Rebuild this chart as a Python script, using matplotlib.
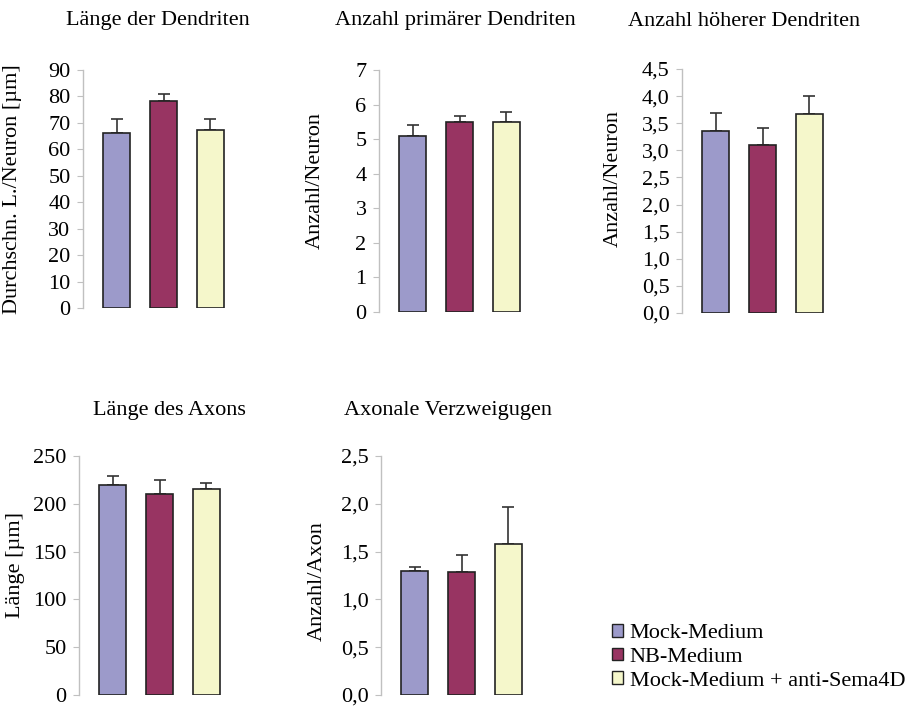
import matplotlib
matplotlib.use("Agg")
import matplotlib.pyplot as plt
from matplotlib.patches import Patch
from matplotlib.ticker import FuncFormatter

plt.rcParams['font.family'] = ['Liberation Serif', 'DejaVu Serif']

# Gruppen und Farben
gruppen = ['Mock-Medium', 'NB-Medium', 'Mock-Medium + anti-Sema4D']
farben = ['#9c9aca', '#983462', '#f5f7cb']

# Werte je Panel (Mittelwert, Fehler nach oben)
titel = ['Länge der Dendriten', 'Anzahl primärer Dendriten', 'Anzahl höherer Dendriten',
         'Länge des Axons', 'Axonale Verzweigugen']
ylabels = ['Durchschn. L./Neuron [µm]', 'Anzahl/Neuron', 'Anzahl/Neuron',
           'Länge [µm]', 'Anzahl/Axon']

laenge_dendriten = [66.0, 78.4, 67.3]
laenge_dendriten_err = [5.5, 2.6, 4.2]
primaer = [5.09, 5.50, 5.50]
primaer_err = [0.33, 0.16, 0.28]
hoeher = [3.36, 3.09, 3.67]
hoeher_err = [0.33, 0.33, 0.33]
axon_laenge = [219.4, 209.9, 215.8]
axon_laenge_err = [10.2, 15.1, 6.0]
verzweigung = [1.30, 1.29, 1.58]
verzweigung_err = [0.04, 0.17, 0.39]

yticks = [
    [0, 10, 20, 30, 40, 50, 60, 70, 80, 90],
    [0, 1, 2, 3, 4, 5, 6, 7],
    [0.0, 0.5, 1.0, 1.5, 2.0, 2.5, 3.0, 3.5, 4.0, 4.5],
    [0, 50, 100, 150, 200, 250],
    [0.0, 0.5, 1.0, 1.5, 2.0, 2.5],
]
dezimal = [False, False, True, False, True]

werte = [laenge_dendriten, primaer, hoeher, axon_laenge, verzweigung]
fehler = [laenge_dendriten_err, primaer_err, hoeher_err, axon_laenge_err, verzweigung_err]

W, H = 911, 706
fig = plt.figure(figsize=(W / 100, H / 100), dpi=100)

# Achsen in Pixeln: links, oben, unten
boxen = [(83, 70, 308), (379, 70, 312), (682, 69, 313), (79, 456, 695), (381, 456, 695)]
breite = 164
label_x = [22, 325, 623, 25, 327]
label_y = [0.5, 0.545, 0.55, 0.546, 0.475]
titel_pos = [(158, 21), (455, 21), (744, 21), (169, 411), (448, 411)]

for i in range(5):
    l, t, b = boxen[i]
    ax = fig.add_axes([l / W, 1 - b / H, breite / W, (b - t) / H])
    x = [0, 1, 2]
    ax.bar(x, werte[i], width=0.58, color=farben, edgecolor='#222222', linewidth=1.2, zorder=2)
    ax.errorbar(x, werte[i], yerr=[[0, 0, 0], fehler[i]], fmt='none', ecolor='#333333',
                elinewidth=1.2, capsize=4, capthick=1.2, zorder=1)
    ax.set_xlim(-0.72, 2.78)
    ax.set_ylim(yticks[i][0], yticks[i][-1])
    ax.set_yticks(yticks[i])
    if dezimal[i]:
        ax.yaxis.set_major_formatter(FuncFormatter(lambda v, p: f'{v:.1f}'.replace('.', ',')))
    ax.set_xticks([])
    for s in ['top', 'right', 'bottom']:
        ax.spines[s].set_visible(False)
    ax.spines['left'].set_color('#c0c0c0')
    ax.spines['left'].set_linewidth(1.0)
    ax.tick_params(axis='y', length=4, color='#c0c0c0', labelsize=16, pad=5)
    ax.set_ylabel(ylabels[i], fontsize=16)
    ax.yaxis.set_label_coords((label_x[i] - l) / breite, label_y[i])
    fig.text(titel_pos[i][0] / W, 1 - titel_pos[i][1] / H, titel[i], fontsize=16,
             ha='center', va='center')

handles = [Patch(facecolor=farben[k], edgecolor='#222222', linewidth=1.0) for k in range(3)]
fig.legend(handles, gruppen, loc='upper left', bbox_to_anchor=(612 / W, 1 - 624 / H),
           frameon=False, fontsize=16, handlelength=0.5, handleheight=0.5,
           handletextpad=0.3, labelspacing=0.2, borderpad=0, borderaxespad=0)

fig.savefig('out.png', dpi=100, facecolor='white')
